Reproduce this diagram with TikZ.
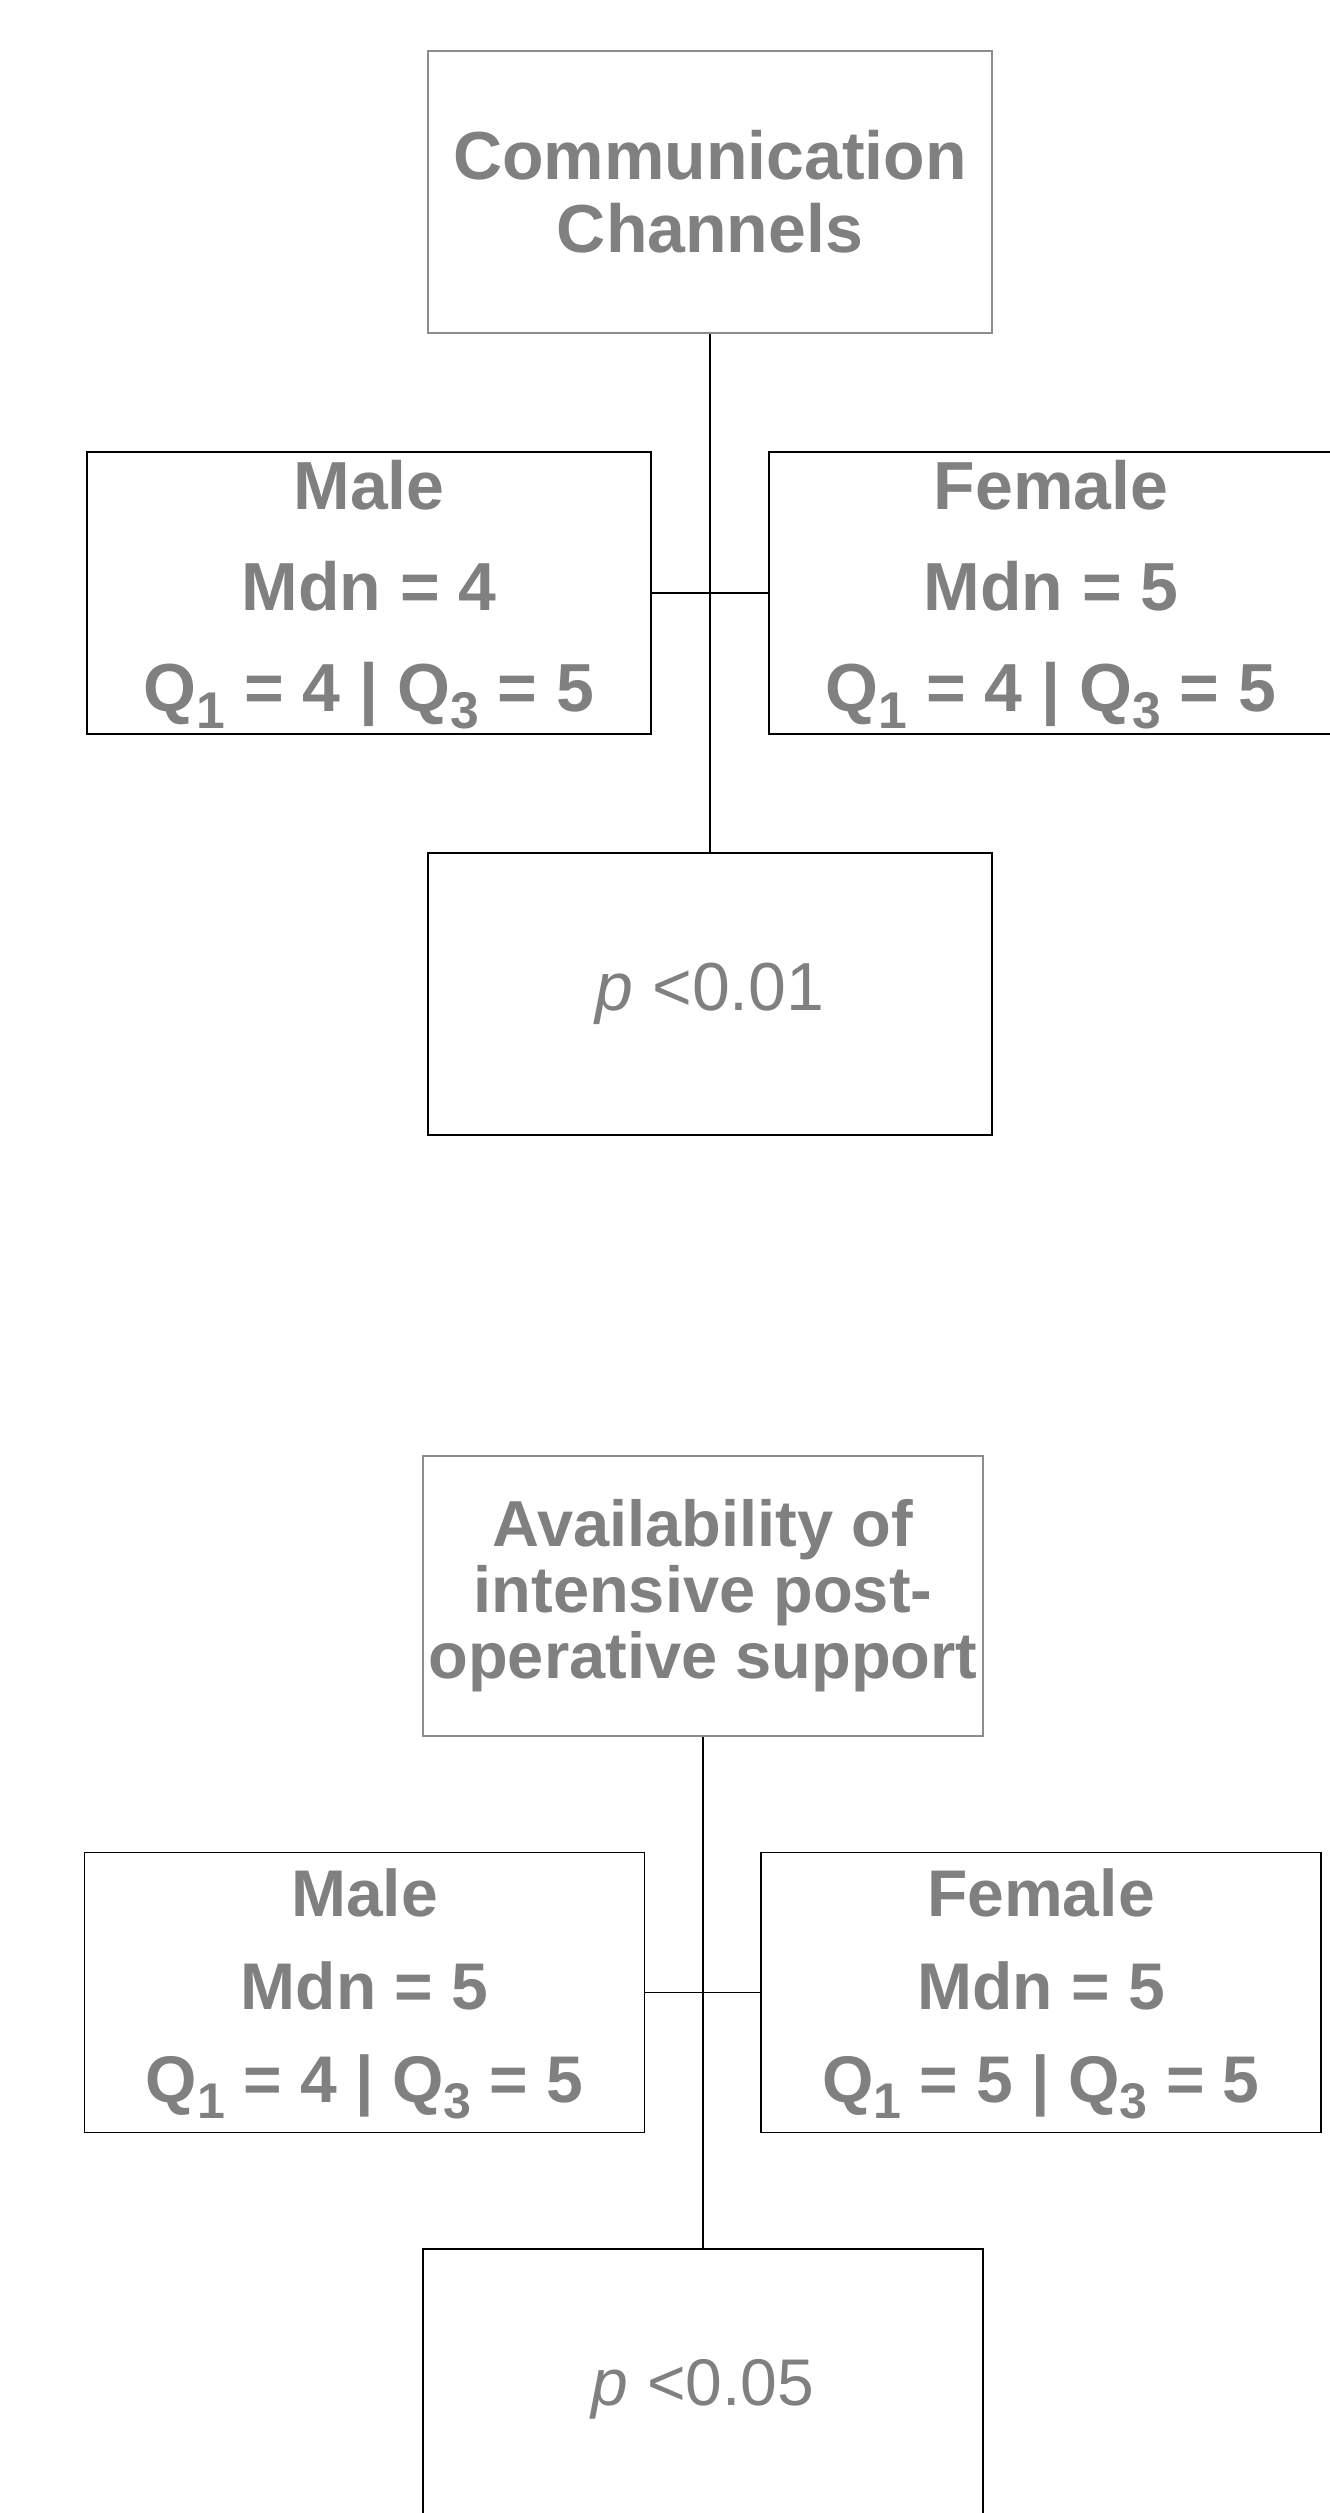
\documentclass[tikz,border=0pt]{standalone}
\usepackage{fontspec}
\setmainfont{Liberation Sans}
\definecolor{txtgray}{RGB}{128,128,128}
\definecolor{boxgray}{RGB}{140,140,140}
\newcommand{\qsub}[1]{\raisebox{-0.25em}[0pt][0pt]{\scalebox{0.76}{#1}}}

\begin{document}
\begin{tikzpicture}[x=0.5pt, y=-0.5pt,
	every node/.style={text=txtgray, inner sep=0pt, align=center},
	box/.style={draw=black, line width=0.65pt, minimum width=282pt, minimum height=141pt},
	titlebox/.style={box, draw=boxgray},
	head/.style={font=\bfseries\fontsize{34pt}{36.5pt}\selectfont},
	grp/.style={font=\bfseries\fontsize{34pt}{50.5pt}\selectfont},
	pval/.style={font=\fontsize{34pt}{36pt}\selectfont},
	link/.style={draw=black, line width=0.65pt}]

\useasboundingbox (0,0) rectangle (1329,2513);

\begin{scope}[shift={(0,0)}]
\node[titlebox, head] (comm) at (710,192) {Communication\\Channels};

\node[box, grp] (male1)   at (369,593)  {Male\\Mdn = 4\\Q\qsub{1} = 4 | Q\qsub{3} = 5};
\node[box, grp] (female1) at (1051,593) {Female\\Mdn = 5\\Q\qsub{1} = 4 | Q\qsub{3} = 5};

\node[box, pval] (p1) at (710,994) {\textit{p} <0.01};

\draw[link] (comm.south) -- (p1.north);
\draw[link] (male1.east) -- (female1.west);
\end{scope}


\begin{scope}[shift={(-7,1405)},
	box/.append style={minimum width=280pt, minimum height=140pt},
	head/.style={font=\bfseries\fontsize{32.5pt}{33pt}\selectfont},
	grp/.style={font=\bfseries\fontsize{33pt}{46.5pt}\selectfont},
	pval/.style={font=\fontsize{33pt}{35pt}\selectfont}]
\node[titlebox, head] (avail) at (710,191) {Availability of\\intensive post-\\operative support};

\node[box, grp] (male2)   at (371.5,587.5) {Male\\Mdn = 5\\Q\qsub{1} = 4 | Q\qsub{3} = 5};
\node[box, grp] (female2) at (1048,587.5)  {Female\\Mdn = 5\\Q\qsub{1} = 5 | Q\qsub{3} = 5};

\node[box, pval] (p2) at (710,984) {\textit{p} <0.05};

\draw[link] (avail.south) -- (p2.north);
\draw[link] (male2.east) -- (female2.west);
\end{scope}

\end{tikzpicture}
\end{document}
